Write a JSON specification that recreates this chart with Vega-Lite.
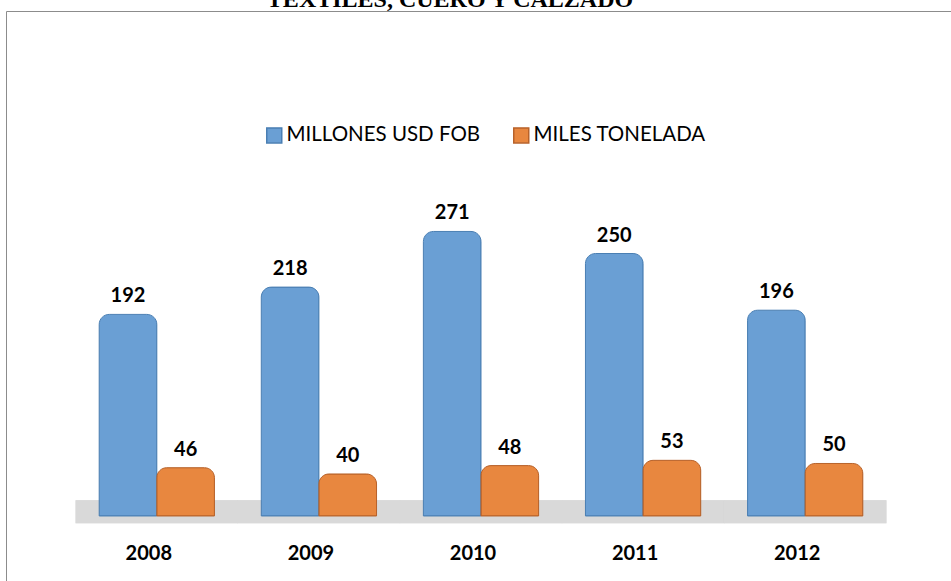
{
  "$schema": "https://vega.github.io/schema/vega-lite/v6.json",
  "width": 950,
  "height": 575,
  "autosize": {"type": "none"},
  "padding": {"left": 6, "top": 11, "right": 0, "bottom": 0},
  "background": "white",
  "title": {"text": "TEXTILES, CUERO Y CALZADO", "font": "Liberation Serif", "fontSize": 24, "fontWeight": "bold", "color": "black", "anchor": "middle", "baseline": "alphabetic", "offset": 3, "dx": -31, "dy": 23},
  "config": {"view": {"stroke": "#8c8c8c", "strokeWidth": 1}},
  "data": {"values": [
    {"year": "2008", "series": "MILLONES USD FOB", "value": 192},
    {"year": "2008", "series": "MILES TONELADA", "value": 46},
    {"year": "2009", "series": "MILLONES USD FOB", "value": 218},
    {"year": "2009", "series": "MILES TONELADA", "value": 40},
    {"year": "2010", "series": "MILLONES USD FOB", "value": 271},
    {"year": "2010", "series": "MILES TONELADA", "value": 48},
    {"year": "2011", "series": "MILLONES USD FOB", "value": 250},
    {"year": "2011", "series": "MILES TONELADA", "value": 53},
    {"year": "2012", "series": "MILLONES USD FOB", "value": 196},
    {"year": "2012", "series": "MILES TONELADA", "value": 50}
  ]},
  "encoding": {
    "x": {"field": "year", "type": "nominal", "scale": {"paddingInner": 0.289, "paddingOuter": 0.575},
      "axis": {"title": null, "domain": false, "ticks": false, "tickSize": 0, "labelAngle": 0, "labelFont": "Lato", "labelFontSize": 20, "labelFontWeight": "bold", "labelColor": "black", "labelPadding": 0, "labelBaseline": "middle", "offset": -33, "labelOffset": -8}}
  },
  "layer": [
    {
      "mark": {"type": "bar", "color": "#d9d9d9", "width": {"band": 1.41}},
      "encoding": {
        "y": {"datum": 15, "type": "quantitative", "scale": {"domain": [-66.7, 481], "nice": false, "zero": false}, "axis": null},
        "y2": {"datum": -7}
      }
    },
    {
      "mark": {"type": "bar", "cornerRadiusTopLeft": 10, "cornerRadiusTopRight": 10, "strokeWidth": 1},
      "encoding": {
        "xOffset": {"field": "series", "type": "nominal", "sort": ["MILLONES USD FOB", "MILES TONELADA"]},
        "y": {"field": "value", "type": "quantitative"},
        "color": {"field": "series", "type": "nominal",
          "scale": {"domain": ["MILLONES USD FOB", "MILES TONELADA"], "range": ["#6a9fd4", "#e8873f"]},
          "legend": {"orient": "none", "legendX": 258, "legendY": 114, "direction": "horizontal", "title": null, "symbolType": "square", "symbolSize": 225, "symbolStrokeWidth": 1.5, "labelFont": "Lato", "labelFontSize": 20.5, "labelColor": "black", "labelLimit": 400, "columnPadding": 29, "labelOffset": 2}},
        "stroke": {"field": "series", "type": "nominal",
          "scale": {"domain": ["MILLONES USD FOB", "MILES TONELADA"], "range": ["#4a7fb3", "#b8622a"]}}
      }
    },
    {
      "mark": {"type": "text", "font": "Lato", "fontSize": 20, "fontWeight": "bold", "baseline": "bottom", "dy": -8, "color": "black"},
      "encoding": {
        "xOffset": {"field": "series", "type": "nominal", "sort": ["MILLONES USD FOB", "MILES TONELADA"]},
        "y": {"field": "value", "type": "quantitative"},
        "text": {"field": "value", "type": "quantitative"}
      }
    }
  ]
}
